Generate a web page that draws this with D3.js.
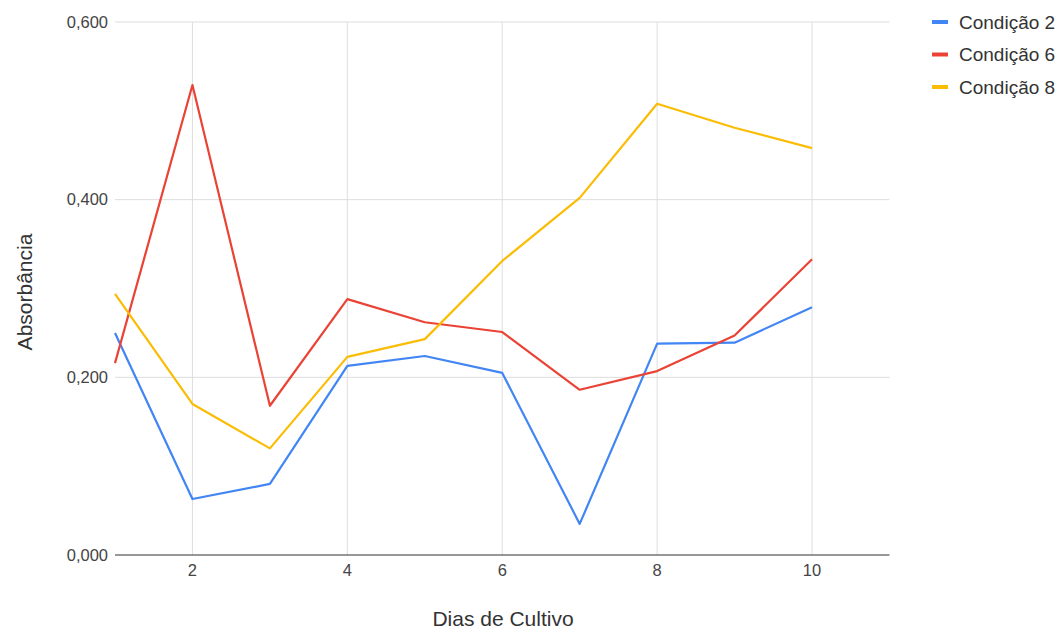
<!DOCTYPE html>
<html><head><meta charset="utf-8">
<script src="https://cdn.jsdelivr.net/npm/d3@7/dist/d3.min.js"></script>
<style>body{margin:0;background:#fff;font-family:"Liberation Sans",Arial,sans-serif}</style>
</head><body><svg id="c" width="1062" height="632" font-family="'Liberation Sans',Arial,sans-serif"></svg>
<script>
const days = [1,2,3,4,5,6,7,8,9,10];
const cond2 = [0.250,0.063,0.080,0.213,0.224,0.205,0.035,0.238,0.239,0.279];
const cond6 = [0.216,0.529,0.168,0.288,0.262,0.251,0.186,0.207,0.247,0.333];
const cond8 = [0.294,0.170,0.120,0.223,0.243,0.331,0.402,0.508,0.481,0.458];
const seriesNames = ["Condição 2","Condição 6","Condição 8"];
const colors = ["#4285F4","#EA4335","#FBBC04"];
const xTicks = [2,4,6,8,10];
const yTicks = [0,0.2,0.4,0.6];

const svg = d3.select("#c");
const x = d3.scaleLinear().domain([1,11]).range([115,889.5]);
const y = d3.scaleLinear().domain([0,0.6]).range([555,22]);
const fmt = v => d3.format(".3f")(v).replace(".",",");

// gridlines
svg.append("g").selectAll("line").data(yTicks.filter(d=>d>0)).join("line")
  .attr("x1",x.range()[0]).attr("x2",x.range()[1])
  .attr("y1",d=>y(d)).attr("y2",d=>y(d)).attr("stroke","#dddddd").attr("stroke-width",1);
svg.append("g").selectAll("line").data(xTicks).join("line")
  .attr("x1",d=>x(d)).attr("x2",d=>x(d))
  .attr("y1",y(0)).attr("y2",y(0.6)).attr("stroke","#dddddd").attr("stroke-width",1);

// axes labels
svg.append("g").selectAll("text").data(yTicks).join("text")
  .attr("x",108).attr("y",d=>y(d)).attr("dy","0.35em").attr("text-anchor","end")
  .attr("font-size",16.5).attr("fill","#444").text(fmt);
svg.append("g").selectAll("text").data(xTicks).join("text")
  .attr("x",d=>x(d)).attr("y",576).attr("text-anchor","middle")
  .attr("font-size",16.5).attr("fill","#444").text(d=>d);

// lines
const data = [cond2,cond6,cond8];
const line = d3.line().x((d,i)=>x(days[i])).y(d=>y(d));
svg.append("g").selectAll("path").data(data).join("path")
  .attr("d",line).attr("fill","none").attr("stroke",(d,i)=>colors[i])
  .attr("stroke-width",2.2).attr("stroke-linejoin","round");

// baseline
svg.append("line").attr("x1",x.range()[0]).attr("x2",x.range()[1])
  .attr("y1",y(0)).attr("y2",y(0)).attr("stroke","#333").attr("stroke-width",1.2);

// titles
svg.append("text").attr("x",503).attr("y",626).attr("text-anchor","middle")
  .attr("font-size",21).attr("fill","#333").text("Dias de Cultivo");
svg.append("text").attr("transform","translate(32,292) rotate(-90)").attr("text-anchor","middle")
  .attr("font-size",21).attr("fill","#333").text("Absorbância");

// legend
const lg = svg.append("g").selectAll("g").data(seriesNames).join("g")
  .attr("transform",(d,i)=>`translate(932,${22+i*32.5})`);
lg.append("line").attr("x1",0).attr("x2",16).attr("y1",0).attr("y2",0)
  .attr("stroke",(d,i)=>colors[i]).attr("stroke-width",4);
lg.append("text").attr("x",27).attr("y",0).attr("dy","0.36em")
  .attr("font-size",19).attr("fill","#333").text(d=>d);
</script></body></html>
